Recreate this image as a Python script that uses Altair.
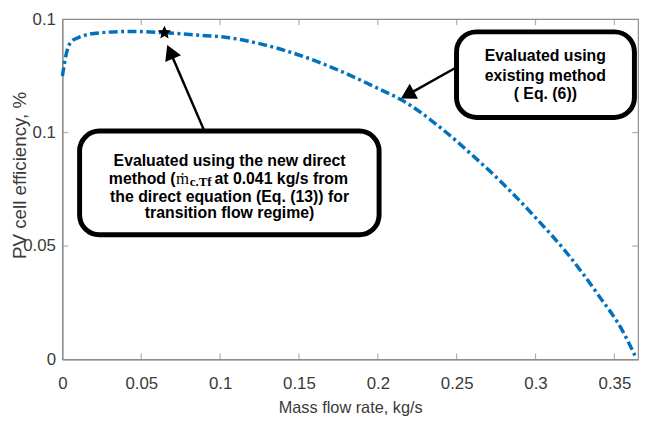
import altair as alt
import pandas as pd

# ---- data ----
flow = [0, 0.0023, 0.0054, 0.0106, 0.023, 0.0435, 0.0647, 0.0852, 0.1057, 0.125,
        0.15, 0.175, 0.2, 0.216, 0.24, 0.26, 0.28, 0.30, 0.32, 0.34, 0.355, 0.363]
eff = [0.1249, 0.1342, 0.1399, 0.1420, 0.1439, 0.1446, 0.1440, 0.1430, 0.1418, 0.1392,
       0.1342, 0.1275, 0.1195, 0.1140, 0.1020, 0.0900, 0.0770, 0.0625, 0.0468, 0.0282, 0.0128, 0.0017]

star_flow = [0.0647]
star_eff = [0.1440]

x_ticks = [0, 0.05, 0.1, 0.15, 0.2, 0.25, 0.3, 0.35]
y_ticks = [0, 0.05, 0.1, 0.15]

box1_lines = ["Evaluated using the new direct", "the direct equation (Eq. (13)) for",
              "transition flow regime)"]
box1_line2 = ["method (", "\u1e41", "c.Tf", "at 0.041 kg/s from"]
box2_lines = ["Evaluated using", "existing method", "( Eq. (6))"]

# annotation anchors (data coordinates)
box_x = [0.0109, 0.2499]
box_x2 = [0.2008, 0.3627]
box_y = [0.10065, 0.14440]
box_y2 = [0.05496, 0.10668]

arrow_x = [0.0895, 0.2488]      # tails (on the boxes)
arrow_y = [0.10151, 0.12836]
head_x = [0.06834, 0.21876]     # arrow-head centres
head_y = [0.13561, 0.11659]

X_MAX = 0.365
Y_MAX = 0.15

BLUE = "#0072BD"
GRAY = "#8c8c8c"
LABEL = "#3a3a3a"
SANS = "Liberation Sans, Arial, sans-serif"
SERIF = "Liberation Serif, Times New Roman, serif"
STAR = ("M0,-1 L0.28,-0.39 L0.951,-0.309 L0.45,0.15 L0.588,0.809 L0,0.47 "
        "L-0.588,0.809 L-0.45,0.15 L-0.951,-0.309 L-0.28,-0.39 Z")

xs = alt.Scale(domain=[0, X_MAX], nice=False, zero=False)
ys = alt.Scale(domain=[0, Y_MAX], nice=False, zero=False)

xaxis = alt.Axis(values=x_ticks, format="~g", title="Mass flow rate, kg/s", ticks=False,
                 grid=False, labelPadding=16, labelFont=SANS, labelFontSize=17,
                 labelColor=LABEL, labelFlush=False, titleFont=SANS, titleFontSize=16.5,
                 titleFontWeight="normal", titleColor=LABEL, titleY=54,
                 titleBaseline="alphabetic", domainColor=GRAY, domainWidth=1.2)
yaxis = alt.Axis(values=y_ticks, format="~g", title="PV cell efficiency, %", ticks=False,
                 grid=False, labelPadding=7, labelFont=SANS, labelFontSize=17,
                 labelColor=LABEL, labelFlush=False, titleFont=SANS, titleFontSize=19,
                 titleFontWeight="normal", titleColor=LABEL, titleX=-37, titleY=157.5,
                 titleAngle=270, titleAlign="center", titleBaseline="alphabetic",
                 domainColor=GRAY, domainWidth=1.2)

curve_df = pd.DataFrame({"x": flow, "y": eff})
line = alt.Chart(curve_df).mark_line(
    color=BLUE, strokeWidth=3.5, strokeDash=[9, 3.5, 3, 3.5], interpolate="monotone"
)

# inward MATLAB-style ticks on all four sides
bt = pd.DataFrame({"x": x_ticks[1:], "y": [0] * (len(x_ticks) - 1)})
tt = pd.DataFrame({"x": x_ticks[1:], "y": [Y_MAX] * (len(x_ticks) - 1)})
lt = pd.DataFrame({"x": [0] * (len(y_ticks) - 2), "y": y_ticks[1:-1]})
rt = pd.DataFrame({"x": [X_MAX] * (len(y_ticks) - 2), "y": y_ticks[1:-1]})
tick_bottom = alt.Chart(bt).mark_tick(orient="vertical", size=6, yOffset=-3, color=GRAY,
                                      thickness=1.2)
tick_top = alt.Chart(tt).mark_tick(orient="vertical", size=6, yOffset=3, color=GRAY,
                                   thickness=1.2)
tick_left = alt.Chart(lt).mark_tick(orient="horizontal", size=6, xOffset=3, color=GRAY,
                                    thickness=1.2)
tick_right = alt.Chart(rt).mark_tick(orient="horizontal", size=6, xOffset=-3, color=GRAY,
                                     thickness=1.2)

box_df = pd.DataFrame({"x": box_x, "x2": box_x2, "y": box_y, "y2": box_y2})
boxes = alt.Chart(box_df).mark_rect(
    fill="white", stroke="black", strokeWidth=5, cornerRadius=20
).encode(x2="x2:Q", y2="y2:Q")

arrow_df = pd.DataFrame({"x": arrow_x, "y": arrow_y, "x2": head_x, "y2": head_y})
shafts = alt.Chart(arrow_df).mark_rule(color="black", strokeWidth=2.5).encode(
    x2="x2:Q", y2="y2:Q")

head1 = alt.Chart(pd.DataFrame({"x": [head_x[0]], "y": [head_y[0]]})).mark_point(
    shape="triangle-up", filled=True, color="black", opacity=1, size=300, angle=336.7)
head2 = alt.Chart(pd.DataFrame({"x": [head_x[1]], "y": [head_y[1]]})).mark_point(
    shape="triangle-up", filled=True, color="black", opacity=1, size=300, angle=240.6)

star = alt.Chart(pd.DataFrame({"x": star_flow, "y": star_eff})).mark_point(
    shape=STAR, filled=True, color="black", opacity=1, size=200)

TXT = dict(font=SANS, fontSize=16, fontWeight="bold", color="black",
           baseline="alphabetic")

b1 = pd.DataFrame({"x": [0.1060] * 3, "y": [0.08534, 0.06940, 0.06250], "t": box1_lines})
text_b1 = alt.Chart(b1).mark_text(align="center", **TXT).encode(text="t:N")

l2a = alt.Chart(pd.DataFrame({"x": [0.0718], "y": [0.07716], "t": [box1_line2[0]]})).mark_text(
    align="right", **TXT).encode(text="t:N")
l2b = alt.Chart(pd.DataFrame({"x": [0.0721], "y": [0.07716], "t": [box1_line2[1]]})).mark_text(
    align="left", font=SERIF, fontSize=17, color="black", baseline="alphabetic"
).encode(text="t:N")
l2c = alt.Chart(pd.DataFrame({"x": [0.0808], "y": [0.07629], "t": [box1_line2[2]]})).mark_text(
    align="left", font=SERIF, fontSize=13, fontWeight="bold", color="black",
    baseline="alphabetic").encode(text="t:N")
l2d = alt.Chart(pd.DataFrame({"x": [0.0964], "y": [0.07716], "t": [box1_line2[3]]})).mark_text(
    align="left", **TXT).encode(text="t:N")

b2 = pd.DataFrame({"x": [0.3062] * 3, "y": [0.13155, 0.12293, 0.11474], "t": box2_lines})
text_b2 = alt.Chart(b2).mark_text(align="center", **TXT).encode(text="t:N")

chart = alt.layer(
    line, tick_bottom, tick_top, tick_left, tick_right, shafts, head1, head2,
    boxes, text_b1, l2a, l2b, l2c, l2d, text_b2, star
).encode(
    x=alt.X("x:Q", scale=xs, axis=xaxis),
    y=alt.Y("y:Q", scale=ys, axis=yaxis),
).properties(
    width=582, height=344,
    padding={"left": 3, "top": 0, "right": 0, "bottom": 0},
    background="white",
).configure_view(stroke=GRAY, strokeWidth=1.2)

chart.save("out.html", embed_options={"renderer": "svg", "actions": False})
